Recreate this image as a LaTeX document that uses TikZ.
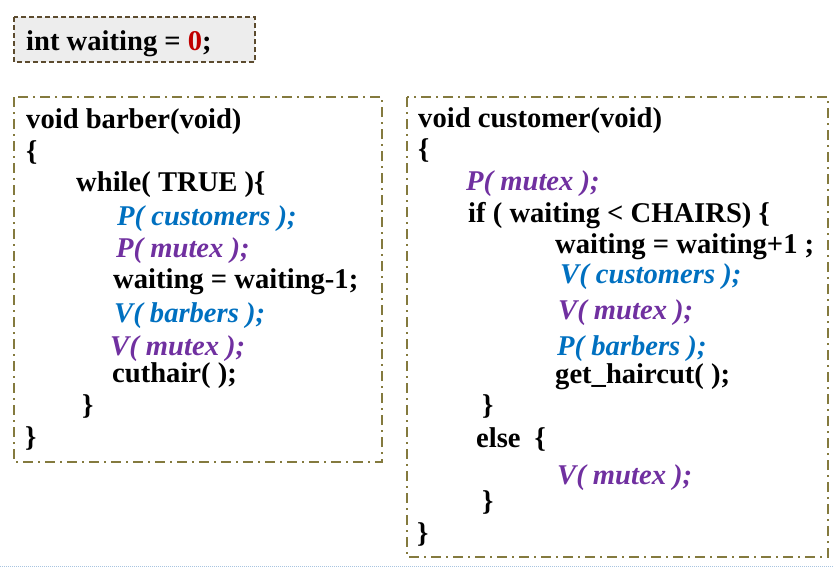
\documentclass[tikz,border=0pt]{standalone}
\usepackage{fontspec}
\setmainfont{Liberation Serif}
\definecolor{cblue}{HTML}{0070C0}
\definecolor{cpurple}{HTML}{7030A0}
\definecolor{cred}{HTML}{C00000}
\definecolor{olivebd}{HTML}{847A3E}
\definecolor{brownbd}{HTML}{5C4B2E}
\definecolor{graybg}{HTML}{EDEDED}
\definecolor{dotblue}{HTML}{A8C4E0}
\begin{document}
\begin{tikzpicture}[x=1pt,y=-1pt,
  code/.style={font=\fontsize{28.6}{32}\selectfont\bfseries, anchor=base west, inner sep=0pt, text=black},
  bcall/.style={code, font=\fontsize{28.6}{32}\selectfont\bfseries\itshape, text=cblue},
  pcall/.style={code, font=\fontsize{28.6}{32}\selectfont\bfseries\itshape, text=cpurple},
  varbox/.style={draw=brownbd, fill=graybg, line width=1.5pt, dash pattern=on 5pt off 3pt},
  procbox/.style={draw=olivebd, line width=1.4pt, dash pattern=on 10pt off 5pt on 2pt off 5pt},
  sepline/.style={draw=dotblue, line width=1pt, dash pattern=on 1pt off 1pt}]
\useasboundingbox (0,0) rectangle (834,568);
% boxes
\draw[varbox] (14,17) rectangle (255,62);
\draw[procbox] (14,97) rectangle (382,462);
\draw[procbox] (407,97) rectangle (828,557);
\draw[sepline] (0,566) -- (834,566);
% shared variable
\node[code] (wv) at (26,50) {int waiting = \textcolor{cred}{0};};
% barber
\node[code]  (b1)  at (26,128) {void barber(void)};
\node[code]  (b2)  at (26,160) {\{};
\node[code]  (b3)  at (76,191) {while( TRUE )\{};
\node[bcall] (b4)  at (117,225) {P( customers );};
\node[pcall] (b5)  at (116,257) {P( mutex );};
\node[code]  (b6)  at (113,288) {waiting = waiting-1;};
\node[bcall] (b7)  at (114,322) {V( barbers );};
\node[pcall] (b8)  at (110,355) {V( mutex );};
\node[code]  (b9)  at (112,382) {cuthair( );};
\node[code]  (b10) at (82,414) {\}};
\node[code]  (b11) at (25,446) {\}};
% customer
\node[code]  (c1)  at (418,127) {void customer(void)};
\node[code]  (c2)  at (418,158) {\{};
\node[pcall] (c3)  at (466,190) {P( mutex );};
\node[code]  (c4)  at (468,222) {if ( waiting < CHAIRS) \{};
\node[code]  (c5)  at (555,253) {waiting = waiting+1 ;};
\node[bcall] (c6)  at (560,283) {V( customers );};
\node[pcall] (c7)  at (558,319) {V( mutex );};
\node[bcall] (c8)  at (557,355) {P( barbers );};
\node[code]  (c9)  at (555,383) {get\_haircut( );};
\node[code]  (c10) at (482,414) {\}};
\node[code]  (c11) at (476,447) {else\hspace{14pt}\{};
\node[pcall] (c12) at (557,484) {V( mutex );};
\node[code]  (c13) at (482,510) {\}};
\node[code]  (c14) at (417,542) {\}};
\end{tikzpicture}
\end{document}
